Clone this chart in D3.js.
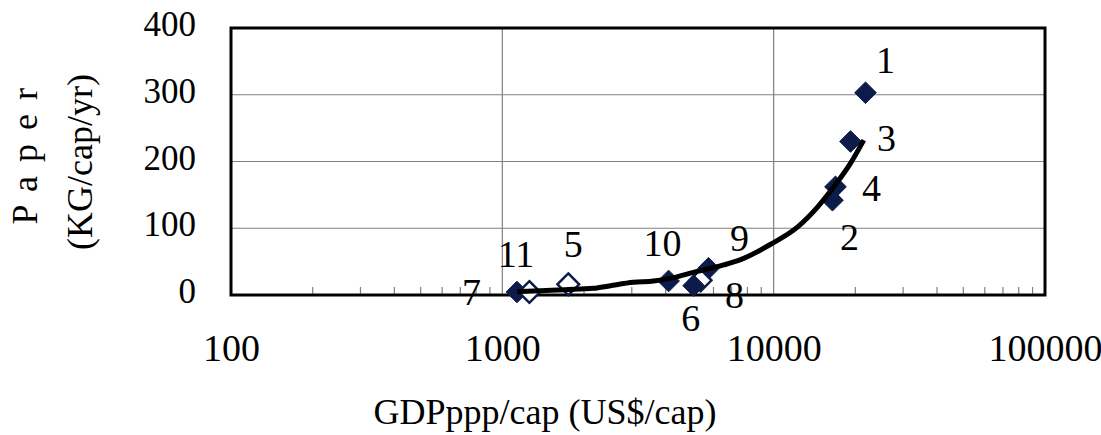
<!DOCTYPE html>
<html>
<head>
<meta charset="utf-8">
<script src="https://cdn.jsdelivr.net/npm/d3@7"></script>
<style>
  html, body { margin: 0; padding: 0; background: #fff; }
  svg { display: block; }
  text { font-family: "Liberation Serif", "Times New Roman", serif; fill: #000; }
</style>
</head>
<body>
<svg id="chart" width="1101" height="435"></svg>
<script>
// Country points: id, GDP (PPP, US$/cap) and paper use (kg/cap/yr)
const pointIds   = ["1", "3", "4", "2", "9", "8", "6", "10", "5", "11", "7"];
const pointGdp   = [21800, 19200, 16900, 16470, 5750, 5380, 5070, 4100, 1750, 1132, 1258];
const pointPaper = [303, 230, 162, 142, 40, 22, 14, 21, 16, 4.5, 4.5];
const pointOpen  = [false, false, false, false, false, true, false, false, true, false, true];

// Fitted curve through the cloud
const trendGdp   = [1136, 1381, 1700, 2167, 2503, 3043, 3608, 4276, 5068, 6539, 7553, 9748, 12264, 14535, 16652, 19238, 21480];
const trendPaper = [5, 6.5, 8, 10, 14, 19, 21, 26, 34, 45, 53, 76, 102, 132, 162, 198, 232];

const xTickValues = [100, 1000, 10000, 100000];
const yTickValues = [0, 100, 200, 300, 400];

const xTitle = "GDPppp/cap (US$/cap)";
const yTitle1 = "P a p e r";
const yTitle2 = "(KG/cap/yr)";

// Label placement around each point (pixel offsets)
const labelOffsets = {
  "1": [20, -33], "3": [36, -4], "4": [36, 1], "2": [17, 36],
  "9": [31, -31], "8": [34, 14], "6": [-3, 32], "10": [-6, -38],
  "5": [5, -41], "11": [-1, -38], "7": [-58, 0]
};

const svg = d3.select("#chart");
const plotLeft = 231, plotRight = 1045, plotTop = 28, plotBottom = 295;

const x = d3.scaleLog().domain([100, 100000]).range([plotLeft, plotRight]);
const y = d3.scaleLinear().domain([0, 400]).range([plotBottom, plotTop]);

const navy = "#0d1b4b";

// Horizontal gridlines
svg.append("g").selectAll("line")
  .data(yTickValues.filter(v => v > 0 && v < 400))
  .join("line")
  .attr("x1", plotLeft).attr("x2", plotRight)
  .attr("y1", d => y(d)).attr("y2", d => y(d))
  .attr("stroke", "#808080").attr("stroke-width", 1.2);

// Vertical gridlines at decades
svg.append("g").selectAll("line")
  .data(xTickValues.filter(v => v > 100 && v < 100000))
  .join("line")
  .attr("x1", d => x(d)).attr("x2", d => x(d))
  .attr("y1", plotTop).attr("y2", plotBottom)
  .attr("stroke", "#808080").attr("stroke-width", 1.2);

// Minor log ticks along the bottom axis
const minor = [];
for (let dec = 100; dec < 100000; dec *= 10) {
  for (let m = 2; m <= 9; m++) minor.push(dec * m);
}
svg.append("g").selectAll("line")
  .data(minor)
  .join("line")
  .attr("x1", d => x(d)).attr("x2", d => x(d))
  .attr("y1", plotBottom - 8).attr("y2", plotBottom)
  .attr("stroke", "#808080").attr("stroke-width", 1.2);

// Plot frame
svg.append("rect")
  .attr("x", plotLeft).attr("y", plotTop)
  .attr("width", plotRight - plotLeft).attr("height", plotBottom - plotTop)
  .attr("fill", "none").attr("stroke", "#000").attr("stroke-width", 3);

// Axis tick labels
const xAxis = d3.axisBottom(x).tickValues(xTickValues).tickFormat(d3.format("d")).tickSize(0).tickPadding(0);
const gx = svg.append("g").attr("transform", `translate(0,${plotBottom})`).call(xAxis);
gx.select(".domain").remove();
gx.selectAll("text")
  .attr("y", 66).attr("dy", null)
  .style("font-size", "38px")
  .style("font-family", "'Liberation Serif', 'Times New Roman', serif")
  .attr("fill", "#000");

const yAxis = d3.axisLeft(y).tickValues(yTickValues).tickFormat(d3.format("d")).tickSize(0).tickPadding(0);
const gy = svg.append("g").attr("transform", `translate(${plotLeft},0)`).call(yAxis);
gy.select(".domain").remove();
gy.selectAll("text")
  .attr("x", -35).attr("dy", "0.22em")
  .style("font-size", "35px")
  .style("font-family", "'Liberation Serif', 'Times New Roman', serif")
  .attr("fill", "#000");

// Data points
const pts = pointIds.map((id, i) => ({ id, gdp: pointGdp[i], paper: pointPaper[i], open: pointOpen[i] }));
const diamond = d3.symbol().type(d3.symbolDiamond2).size(300);

svg.append("g").selectAll("path")
  .data(pts)
  .join("path")
  .attr("d", diamond)
  .attr("transform", d => `translate(${x(d.gdp)},${y(d.paper)})`)
  .attr("fill", d => d.open ? "#fff" : navy)
  .attr("stroke", navy)
  .attr("stroke-width", d => d.open ? 2.5 : 1);

// Trend curve
const trend = trendGdp.map((g, i) => [g, trendPaper[i]]);
svg.append("path")
  .datum(trend)
  .attr("d", d3.line().x(d => x(d[0])).y(d => y(d[1])).curve(d3.curveMonotoneX))
  .attr("fill", "none")
  .attr("stroke", "#000")
  .attr("stroke-width", 5)
  .attr("stroke-linejoin", "round");

// Point labels
svg.append("g").selectAll("text")
  .data(pts)
  .join("text")
  .attr("x", d => x(d.gdp) + labelOffsets[d.id][0])
  .attr("y", d => y(d.paper) + labelOffsets[d.id][1])
  .attr("dy", "0.35em")
  .attr("text-anchor", "middle")
  .style("font-size", "38px")
  .text(d => d.id);

// Axis titles
svg.append("text")
  .attr("x", 545).attr("y", 424)
  .attr("text-anchor", "middle")
  .style("font-size", "36px")
  .text(xTitle);

svg.append("text")
  .attr("transform", "translate(37,155) rotate(-90)")
  .attr("text-anchor", "middle")
  .style("font-size", "36px")
  .style("letter-spacing", "2.5px")
  .text(yTitle1);

svg.append("text")
  .attr("transform", "translate(92,162) rotate(-90)")
  .attr("text-anchor", "middle")
  .style("font-size", "36px")
  .text(yTitle2);
</script>
</body>
</html>
